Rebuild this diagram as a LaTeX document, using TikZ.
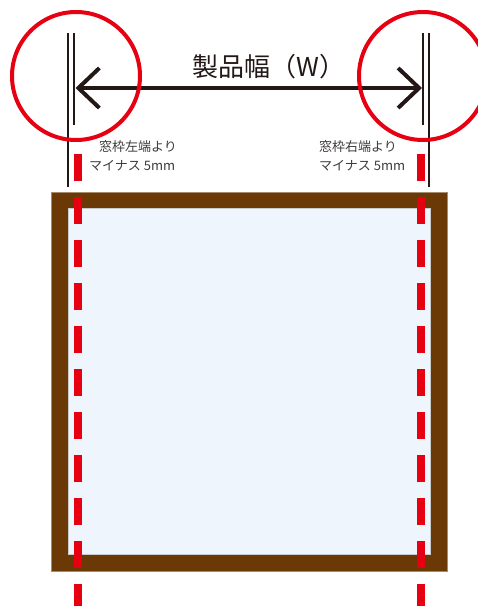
\documentclass[tikz,border=0pt]{standalone}
\usepackage{fontspec}
\newfontfamily\jpfont{Noto Sans CJK JP}
\usetikzlibrary{arrows.meta}
\definecolor{markred}{HTML}{E60012}
\definecolor{framebrown}{HTML}{6A3906}
\definecolor{frameedge}{HTML}{A88B6A}
\definecolor{glassblue}{HTML}{EEF5FC}
\definecolor{glassedge}{HTML}{C9CACA}
\definecolor{inkblack}{HTML}{231815}
\definecolor{inkgray}{HTML}{3E3A39}
\tikzset{
  guide/.style={draw=inkblack, line width=2pt},
  redcircle/.style={draw=markred, line width=4pt},
  reddash/.style={draw=markred, line width=8pt, dash pattern=on 27pt off 16pt},
  dimarrow/.style={draw=inkblack, line width=4pt, {Straight Barb[length=21pt,width=40pt]}-{Straight Barb[length=21pt,width=40pt]}},
  title/.style={inner sep=0pt, anchor=west, text=inkblack, font=\jpfont\fontsize{26pt}{30pt}\selectfont},
  note/.style={inner sep=0pt, anchor=west, text=inkgray, font=\jpfont\fontsize{13pt}{15pt}\selectfont}
}
\begin{document}
\begin{tikzpicture}[x=1pt,y=-1pt]
\useasboundingbox (0,0) rectangle (478,606);
% window frame and glass
\node[draw=frameedge, fill=framebrown, line width=0.8pt, minimum width=396pt, minimum height=379pt, inner sep=0pt, anchor=north west] (frame) at (51,192) {};
\node[draw=glassedge, fill=glassblue, line width=0.6pt, minimum width=362pt, minimum height=346pt, inner sep=0pt, anchor=north west] (glass) at (68,208) {};
% red dashed lines
\coordinate (ldt) at (78,154); \coordinate (ldb) at (78,606);
\coordinate (rdt) at (421,154); \coordinate (rdb) at (421,606);
\draw[reddash] (ldt) -- (ldb);
\draw[reddash] (rdt) -- (rdb);
% black guide lines
\coordinate (lo1) at (67.7,33); \coordinate (lo2) at (67.7,187);
\coordinate (li1) at (74.3,33); \coordinate (li2) at (74.3,125);
\coordinate (ro1) at (429,33); \coordinate (ro2) at (429,187);
\coordinate (ri1) at (423,33); \coordinate (ri2) at (423,125);
\draw[guide] (lo1) -- (lo2);
\draw[guide] (li1) -- (li2);
\draw[guide] (ro1) -- (ro2);
\draw[guide] (ri1) -- (ri2);
% dimension arrow
\coordinate (al) at (75.5,88); \coordinate (ar) at (422,88);
\draw[dimarrow] (al) -- (ar);
% red circles
\node[redcircle, circle, minimum size=128pt, inner sep=0pt] (lc) at (76,76) {};
\node[redcircle, circle, minimum size=128pt, inner sep=0pt] (rc) at (423,76) {};
% texts
\node[title] (ttl) at (192,67) {製品幅（W）};
\node[note] (l1) at (99,147) {窓枠左端より};
\node[note] (l2) at (89,166) {マイナス 5mm};
\node[note] (r1) at (319,147) {窓枠右端より};
\node[note] (r2) at (319,166) {マイナス 5mm};
\end{tikzpicture}
\end{document}
